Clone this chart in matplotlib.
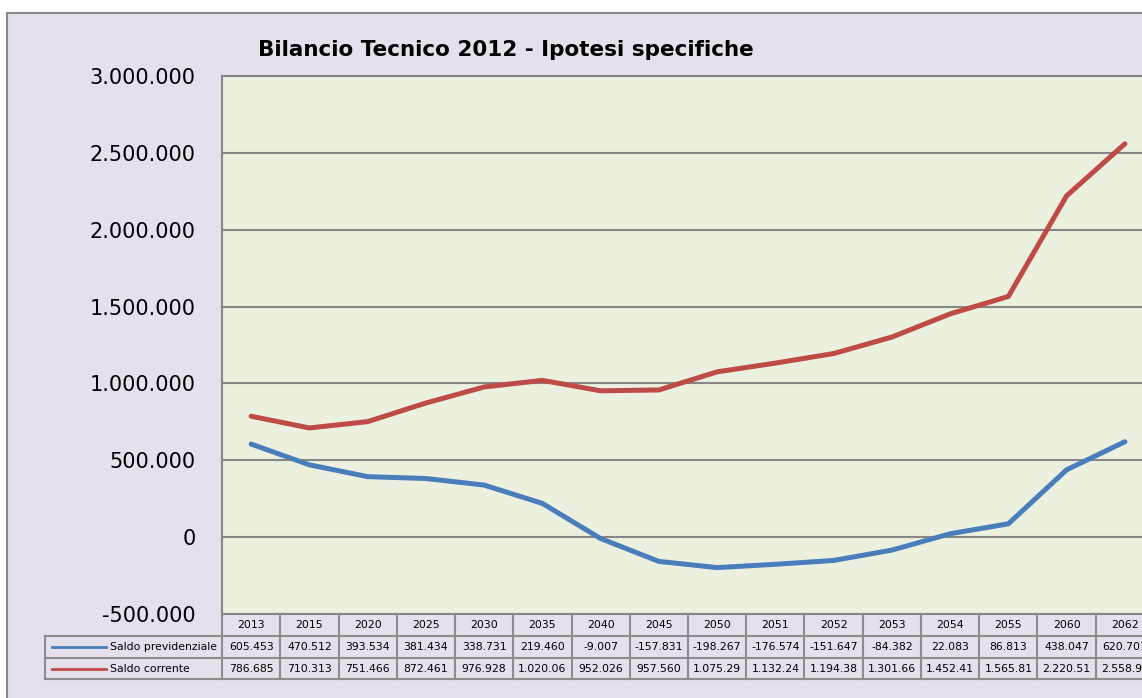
import matplotlib
matplotlib.use("Agg")
import matplotlib.pyplot as plt
from matplotlib.patches import Rectangle
from matplotlib.transforms import blended_transform_factory
from matplotlib.ticker import FuncFormatter

years = ["2013", "2015", "2020", "2025", "2030", "2035", "2040", "2045",
         "2050", "2051", "2052", "2053", "2054", "2055", "2060", "2062"]
saldo_previdenziale = [605453, 470512, 393534, 381434, 338731, 219460, -9007, -157831,
                       -198267, -176574, -151647, -84382, 22083, 86813, 438047, 620701]
saldo_corrente = [786685, 710313, 751466, 872461, 976928, 1020060, 952026, 957560,
                  1075290, 1132240, 1194380, 1301660, 1452410, 1565810, 2220510, 2558900]
series_names = ["Saldo previdenziale", "Saldo corrente"]
title = "Bilancio Tecnico 2012 - Ipotesi specifiche"

W, H = 1142, 698
BG = "#E6DFEC"
PLOT_BG = "#EBF0DF"
GRID = "#868686"
BLUE = "#4A7EBB"
RED = "#BE4B48"
FONT = "DejaVu Sans"


def fx(x):
    return x / W


def fy(y):
    return 1 - y / H


def fmt_it(v):
    s = f"{abs(int(round(v))):,}".replace(",", ".")
    return ("-" if v < 0 else "") + s


fig = plt.figure(figsize=(W / 100, H / 100), dpi=100, facecolor="white")
bgrect = Rectangle((fx(7), fy(720)), fx(1200), fy(13) - fy(720),
                   transform=fig.transFigure, facecolor=BG,
                   edgecolor="#888888", linewidth=1.5, zorder=-10)
fig.patches.append(bgrect)

left, right, top, bottom = 222, 1154, 76, 614
ax = fig.add_axes([fx(left), fy(bottom), fx(right - left), fy(top) - fy(bottom)])
ax.set_zorder(1)
ax.set_facecolor(PLOT_BG)
x = list(range(len(years)))
ax.plot(x, saldo_previdenziale, color=BLUE, lw=3.6, solid_capstyle="round", zorder=3)
ax.plot(x, saldo_corrente, color=RED, lw=3.6, solid_capstyle="round", zorder=3)
ax.set_xlim(-0.5, len(years) - 0.5)
ax.set_ylim(-500000, 3000000)
ax.set_yticks(range(-500000, 3000001, 500000))
ax.yaxis.set_major_formatter(FuncFormatter(lambda v, p: fmt_it(v)))
ax.tick_params(axis="y", length=0, pad=19, labelsize=15)
for lab in ax.get_yticklabels():
    lab.set_fontfamily(FONT)
ax.set_xticks([])
ax.grid(axis="y", color=GRID, lw=1.5)
ax.set_axisbelow(True)
for s in ax.spines.values():
    s.set_color(GRID)
    s.set_linewidth(1.5)

fig.text(fx(506), fy(50), title, ha="center", va="center", fontsize=15.5,
         fontweight="bold", family=FONT)

# data table below the axes
tr = blended_transform_factory(ax.transData, fig.transFigure)
rows_y = [614, 636, 658, 679]
lc = "#8C8C8C"
n = len(years)
for yy in rows_y[1:]:
    fig.add_artist(plt.Line2D([fx(45), fx(1200)], [fy(yy), fy(yy)],
                              transform=fig.transFigure, color=lc, lw=1.5))
fig.add_artist(plt.Line2D([fx(45), fx(45)], [fy(636), fy(679)],
                          transform=fig.transFigure, color=lc, lw=1.5))
for i in range(n + 1):
    fig.add_artist(plt.Line2D([i - 0.5, i - 0.5], [fy(614), fy(679)],
                              transform=tr, color=lc, lw=1.5))

TS = 7.8
for i, yr in enumerate(years):
    fig.text(i, fy(625), yr, transform=tr, ha="center", va="center",
             fontsize=TS, family=FONT)
    fig.text(i, fy(647), fmt_it(saldo_previdenziale[i])[:8], transform=tr,
             ha="center", va="center", fontsize=TS, family=FONT)
    fig.text(i, fy(668.5), fmt_it(saldo_corrente[i])[:8], transform=tr,
             ha="center", va="center", fontsize=TS, family=FONT)

for name, col, yc in [(series_names[0], BLUE, 647), (series_names[1], RED, 668.5)]:
    fig.add_artist(plt.Line2D([fx(52), fx(106)], [fy(yc), fy(yc)],
                              transform=fig.transFigure, color=col, lw=2))
    fig.text(fx(110), fy(yc), name, ha="left", va="center", fontsize=TS, family=FONT)

fig.savefig("out.png", dpi=100, facecolor="white")
